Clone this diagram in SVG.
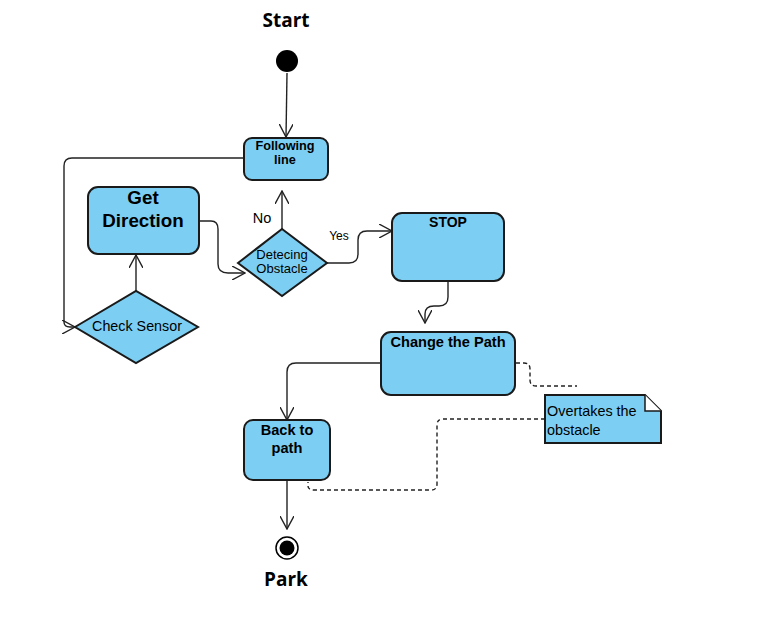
<svg xmlns="http://www.w3.org/2000/svg" width="774" height="618" viewBox="0 0 774 618">
<style>
.box{fill:#7ccff3;stroke:#1a1a1a;stroke-width:2}
.t{font-family:"Liberation Sans",Arial,sans-serif;fill:#000;text-anchor:middle}
.l{text-anchor:start}
.b{font-weight:bold}
.big{font-family:"Open Sans","DejaVu Sans",sans-serif;font-weight:bold;font-size:19px;text-anchor:middle;fill:#000}
.c{fill:none;stroke:#222;stroke-width:1.4}
.d{fill:none;stroke:#222;stroke-width:1.4;stroke-dasharray:4,3}
</style>
<defs>
<marker id="a" viewBox="0 0 14 14" refX="13" refY="7" markerWidth="14" markerHeight="14" markerUnits="userSpaceOnUse" orient="auto">
<path d="M0,0 L13,7 L0,14" fill="none" stroke="#222" stroke-width="1.4"/>
</marker>
</defs>
<rect width="774" height="618" fill="#fff"/>
<g id="connectors">
<path class="c" d="M287,73 L286,137" marker-end="url(#a)"/>
<path class="c" d="M244,158 L72,158 Q64,158 64,166 L64,322 Q64,327 70,327 L75,327" marker-end="url(#a)"/>
<path class="c" d="M136,291 L136,255" marker-end="url(#a)"/>
<path class="c" d="M199,221 L211,221 Q218,221 218,229 L218,264 Q218,273 228,273 L245,273" marker-end="url(#a)"/>
<path class="c" d="M282,229 L282,191" marker-end="url(#a)"/>
<path class="c" d="M327,263 L349,263 Q358,263 358,254 L358,240 Q358,231 367,231 L392,231" marker-end="url(#a)"/>
<path class="c" d="M448,282 L448,297 Q448,306 439,306 L434,306 Q425,306 425,314 L425,323" marker-end="url(#a)"/>
<path class="c" d="M381,363 L296,363 Q287,363 287,372 L287,420" marker-end="url(#a)"/>
<path class="c" d="M287,481 L287,529" marker-end="url(#a)"/>
<path class="d" d="M516,363 L524,363 Q530,363 530,369 L530,380 Q530,386 536,386 L577,386"/>
<path class="d" d="M545,419 L443,419 Q437,419 437,425 L437,484 Q437,490 431,490 L314,490 Q308,490 308,486 L308,482"/>
</g>
<g id="start">
<text class="big" x="286" y="27">Start</text>
<circle cx="287" cy="61" r="11" fill="#000"/>
</g>
<g id="following-line">
<rect class="box" x="244" y="138" width="84" height="42" rx="8"/>
<text class="t b" font-size="12.7" x="285" y="150">Following</text>
<text class="t b" font-size="12.7" x="285" y="164">line</text>
</g>
<g id="get-direction">
<rect class="box" x="88" y="187" width="111" height="67" rx="10"/>
<text class="t b" font-size="18.8" x="143" y="204">Get</text>
<text class="t b" font-size="18.8" x="143" y="227">Direction</text>
</g>
<g id="check-sensor">
<polygon class="box" points="75,327 136,291 198,327 136,363"/>
<text class="t" font-size="14.3" x="137" y="331">Check Sensor</text>
</g>
<g id="detecting-obstacle">
<polygon class="box" points="238,263 282,229 327,263 282,296"/>
<text class="t" font-size="13" x="282" y="259">Detecing</text>
<text class="t" font-size="13" x="282" y="273">Obstacle</text>
<text class="t" font-size="14.5" x="262" y="223">No</text>
<text class="t" font-size="12" x="339" y="240">Yes</text>
</g>
<g id="stop">
<rect class="box" x="392" y="213" width="112" height="68" rx="10"/>
<text class="t b" font-size="14" x="448" y="227">STOP</text>
</g>
<g id="change-path">
<rect class="box" x="381" y="332" width="134" height="63" rx="10"/>
<text class="t b" font-size="14.6" x="448" y="347">Change the Path</text>
</g>
<g id="back-to-path">
<rect class="box" x="244" y="420" width="86" height="60" rx="9"/>
<text class="t b" font-size="14.6" x="287" y="435">Back to</text>
<text class="t b" font-size="14.6" x="287" y="453">path</text>
</g>
<g id="note">
<polygon class="box" points="545,395 645,395 661,411 661,443 545,443"/>
<path d="M645,395 L645,411 L661,411" fill="#fff" stroke="#1a1a1a" stroke-width="1.5"/>
<text class="t l" font-size="14.4" x="547" y="416">Overtakes the</text>
<text class="t l" font-size="14.4" x="547" y="435">obstacle</text>
</g>
<g id="park">
<circle cx="287" cy="548" r="11" fill="#fff" stroke="#000" stroke-width="1.5"/>
<circle cx="287" cy="548" r="7.5" fill="#000"/>
<text class="big" x="286" y="586">Park</text>
</g>
</svg>
